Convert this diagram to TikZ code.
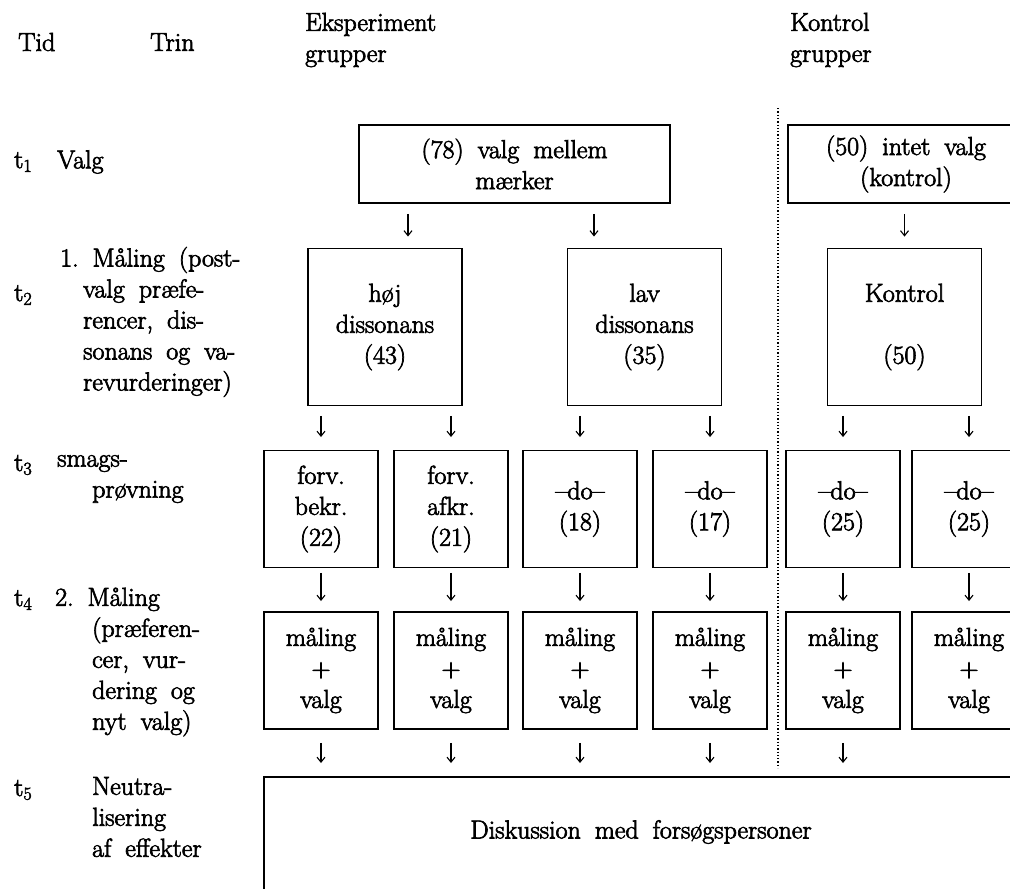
\documentclass[tikz,border=0pt]{standalone}
\usepackage{fontspec}
\setmainfont{Latin Modern Roman}[FakeBold=2.6]
\usetikzlibrary{arrows.meta}
\newcommand\bredord{\spaceskip=14pt plus 3pt minus 2pt\relax}

\begin{document}
\begin{tikzpicture}[x=1pt, y=-1pt,
  font=\fontsize{26}{31}\selectfont\bredord,
  boks/.style={draw, line width=1.9pt, align=center, inner sep=0pt},
  stor/.style={boks, minimum width=154pt, minimum height=157pt},
  smal/.style={boks, minimum width=114pt, minimum height=117pt},
  pil/.style={line width=1.1pt, -{Straight Barb[length=5pt,width=8pt]}},
  tekst/.style={anchor=west, align=left, inner sep=0pt}]

\useasboundingbox (0,0) rectangle (1010,889);
\clip (0,0) rectangle (1010,889);

% overskrifter
\node[tekst] (tid) at (18,42) {Tid};
\node[tekst] (trin) at (150,42) {Trin};
\node[tekst] (eksp) at (305,40) {Eksperiment\\grupper};
\node[tekst] (kontr) at (790,40) {Kontrol\\grupper};

% tider og trin
\node[tekst] (t1) at (14,162) {t\textsubscript{1}};
\node[tekst] (t2) at (14,295) {t\textsubscript{2}};
\node[tekst] (t3) at (14,465) {t\textsubscript{3}};
\node[tekst] (t4) at (14,600) {t\textsubscript{4}};
\node[tekst] (t5) at (14,790) {t\textsubscript{5}};
\node[tekst] (trin1) at (57,162) {Valg};
\node[tekst] (trin2) at (60,322) {1.\ Måling (post-\\\hspace*{23pt}valg præfe-\\\hspace*{23pt}rencer, dis-\\\hspace*{23pt}sonans og va-\\\hspace*{23pt}revurderinger)};
\node[tekst] (trin3) at (57,479) {smags-\\\hspace*{35pt}prøvning};
\node[tekst] (trin4) at (55,662) {2.\ Måling\\\hspace*{37pt}(præferen-\\\hspace*{37pt}cer, vur-\\\hspace*{37pt}dering og\\\hspace*{37pt}nyt valg)};
\node[tekst] (trin5) at (92,817) {Neutra-\\lisering\\af effekter};

% valg
\node[boks, minimum width=311pt, minimum height=78pt] (valg) at (514.5,164) {(78) valg mellem\\mærker};
\node[boks, minimum width=236pt, minimum height=78pt] (intet) at (906,164) {(50) intet valg\\(kontrol)};

% 1. maaling
\node[stor] (hoj) at (385,327) {høj\\dissonans\\(43)};
\node[stor] (lav) at (644.5,327) {lav\\dissonans\\(35)};
\node[stor] (kon) at (904.5,327) {Kontrol\\[31pt](50)};

% smagsproevning
\node[smal] (b1) at (321,509) {forv.\\bekr.\\(22)};
\node[smal] (b2) at (451,509) {forv.\\afkr.\\(21)};
\node[smal] (b3) at (580,509) {--do--\\(18)};
\node[smal] (b4) at (710,509) {--do--\\(17)};
\node[smal] (b5) at (843,509) {--do--\\(25)};
\node[smal] (b6) at (969,509) {--do--\\(25)};

% 2. maaling
\node[smal] (m1) at (321,670.5) {måling\\+\\valg};
\node[smal] (m2) at (451,670.5) {måling\\+\\valg};
\node[smal] (m3) at (580,670.5) {måling\\+\\valg};
\node[smal] (m4) at (710,670.5) {måling\\+\\valg};
\node[smal] (m5) at (843,670.5) {måling\\+\\valg};
\node[smal] (m6) at (969,670.5) {måling\\+\\valg};

% neutralisering
\node[boks, minimum width=767pt, minimum height=134pt, anchor=north west] (disk) at (263,776) {};
\node (disktxt) at (641,832) {Diskussion med forsøgspersoner};

% skillelinje
\draw[dotted, line width=1.3pt] (778,108) -- (778,768);

% pile
\coordinate (p1) at (408,0);
\coordinate (p2) at (594,0);
\draw[pil, shorten <=10pt, shorten >=11pt] (valg.south -| p1) -- (hoj.north -| p1);
\draw[pil, shorten <=10pt, shorten >=11pt] (valg.south -| p2) -- (lav.north -| p2);
\draw[pil, shorten <=10pt, shorten >=11pt] (intet.south -| kon.north) -- (kon.north);

\draw[pil, shorten <=9.5pt, shorten >=12.5pt] (hoj.south -| b1.north) -- (b1.north);
\draw[pil, shorten <=9.5pt, shorten >=12.5pt] (hoj.south -| b2.north) -- (b2.north);
\draw[pil, shorten <=9.5pt, shorten >=12.5pt] (lav.south -| b3.north) -- (b3.north);
\draw[pil, shorten <=9.5pt, shorten >=12.5pt] (lav.south -| b4.north) -- (b4.north);
\draw[pil, shorten <=9.5pt, shorten >=12.5pt] (kon.south -| b5.north) -- (b5.north);
\draw[pil, shorten <=9.5pt, shorten >=12.5pt] (kon.south -| b6.north) -- (b6.north);

\draw[pil, shorten <=4.5pt, shorten >=10pt] (b1.south) -- (m1.north);
\draw[pil, shorten <=4.5pt, shorten >=10pt] (b2.south) -- (m2.north);
\draw[pil, shorten <=4.5pt, shorten >=10pt] (b3.south) -- (m3.north);
\draw[pil, shorten <=4.5pt, shorten >=10pt] (b4.south) -- (m4.north);
\draw[pil, shorten <=4.5pt, shorten >=10pt] (b5.south) -- (m5.north);
\draw[pil, shorten <=4.5pt, shorten >=10pt] (b6.south) -- (m6.north);

\draw[pil, shorten <=13pt, shorten >=13pt] (m1.south) -- (m1.south |- disk.north);
\draw[pil, shorten <=13pt, shorten >=13pt] (m2.south) -- (m2.south |- disk.north);
\draw[pil, shorten <=13pt, shorten >=13pt] (m3.south) -- (m3.south |- disk.north);
\draw[pil, shorten <=13pt, shorten >=13pt] (m4.south) -- (m4.south |- disk.north);
\draw[pil, shorten <=13pt, shorten >=13pt] (m5.south) -- (m5.south |- disk.north);
\end{tikzpicture}
\end{document}
